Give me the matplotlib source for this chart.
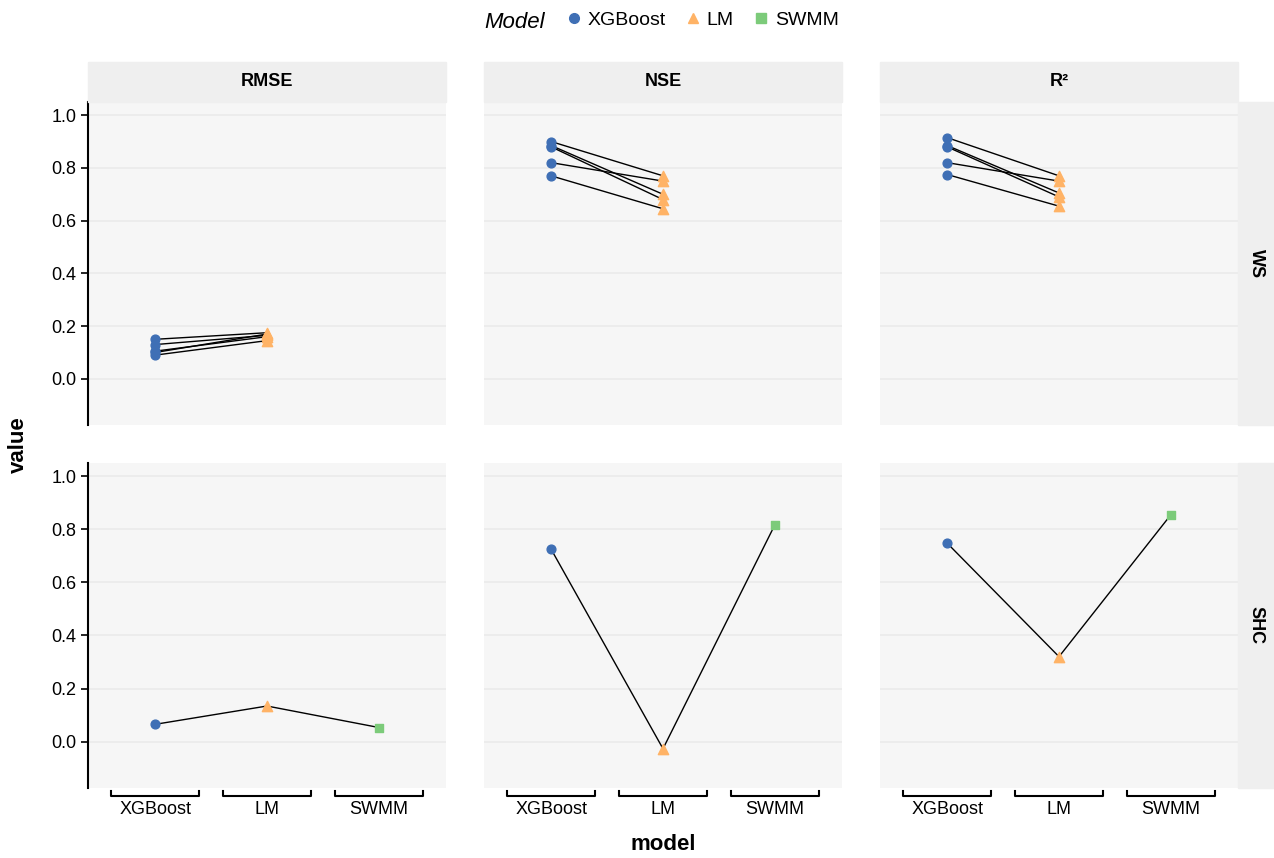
import matplotlib
matplotlib.use("Agg")
import matplotlib.pyplot as plt
import matplotlib.transforms as mtransforms

plt.rcParams['font.family'] = ['Liberation Sans', 'DejaVu Sans']

models = ["XGBoost", "LM", "SWMM"]
metrics = ["RMSE", "NSE", "R²"]
sites = ["WS", "SHC"]
colors = {"XGBoost": "#3f6fb5", "LM": "#ffb366", "SWMM": "#7ccb7a"}
markers = {"XGBoost": "o", "LM": "^", "SWMM": "s"}

# WS: paired XGBoost / LM values per event
ws_xgb = {"RMSE": [0.150, 0.130, 0.100, 0.090, 0.105],
          "NSE": [0.900, 0.885, 0.880, 0.820, 0.770],
          "R²": [0.915, 0.885, 0.880, 0.820, 0.775]}
ws_lm = {"RMSE": [0.175, 0.165, 0.170, 0.145, 0.160],
         "NSE": [0.770, 0.700, 0.680, 0.750, 0.645],
         "R²": [0.770, 0.705, 0.690, 0.750, 0.655]}
# SHC: XGBoost, LM, SWMM
shc = {"RMSE": [0.065, 0.134, 0.053],
       "NSE": [0.725, -0.027, 0.817],
       "R²": [0.748, 0.320, 0.855]}

fig = plt.figure(figsize=(12.74, 8.58), dpi=100)
W, H = 1274, 858
cols_x = [88, 484, 880]
pw = 358
rows_y = [(102, 425), (463, 788)]

axes = {}
for r, site in enumerate(sites):
    for c, met in enumerate(metrics):
        y0, y1 = rows_y[r]
        ax = fig.add_axes([cols_x[c] / W, 1 - y1 / H, pw / W, (y1 - y0) / H])
        ax.set_facecolor("#f6f6f6")
        ax.set_xlim(0.4, 3.6)
        ax.set_ylim(-0.175, 1.05)
        for yy in [0, 0.2, 0.4, 0.6, 0.8, 1.0]:
            ax.axhline(yy, color="#ebebeb", lw=1.2, zorder=0)
        for s in ax.spines.values():
            s.set_visible(False)
        ax.set_yticks([0, 0.2, 0.4, 0.6, 0.8, 1.0])
        if c == 0:
            ax.spines["left"].set_visible(True)
            ax.spines["left"].set_linewidth(1.5)
            ax.tick_params(axis="y", labelsize=13, width=1.2, length=5)
        else:
            ax.tick_params(axis="y", left=False, labelleft=False)
        ax.set_xticks([])
        if r == 1:
            tr = mtransforms.blended_transform_factory(ax.transData, ax.transAxes)
            for i, m in enumerate(models):
                x = i + 1
                ax.plot([x - 0.39, x - 0.39, x + 0.39, x + 0.39], [-0.01, -0.025, -0.025, -0.01],
                        transform=tr, color="black", lw=1.5, clip_on=False)
                ax.text(x, -0.04, m, transform=tr, ha="center", va="top", fontsize=13)
        if r == 0:
            fig.patches.append(plt.Rectangle((cols_x[c] / W, 1 - 102 / H), pw / W, 40 / H,
                                             transform=fig.transFigure, color="#efefef"))
            fig.text((cols_x[c] + pw / 2) / W, 1 - 82 / H, met, ha="center", va="center",
                     fontsize=13, fontweight="bold")
        axes[(site, met)] = ax
    y0, y1 = rows_y[r]
    fig.patches.append(plt.Rectangle((1238 / W, 1 - y1 / H), 36 / W, (y1 - y0) / H,
                                     transform=fig.transFigure, color="#efefef"))
    fig.text(1256 / W, 1 - (y0 + y1) / 2 / H, site, rotation=270, ha="center", va="center",
             fontsize=13, fontweight="bold")

for met in metrics:
    ax = axes[("WS", met)]
    for a, b in zip(ws_xgb[met], ws_lm[met]):
        ax.plot([1, 2], [a, b], color="black", lw=1, zorder=2)
    ax.scatter([1] * len(ws_xgb[met]), ws_xgb[met], color=colors["XGBoost"], marker="o", s=40, zorder=3)
    ax.scatter([2] * len(ws_lm[met]), ws_lm[met], color=colors["LM"], marker="^", s=55, zorder=3)
    ax = axes[("SHC", met)]
    ax.plot([1, 2, 3], shc[met], color="black", lw=1, zorder=2)
    for i, m in enumerate(models):
        ax.scatter([i + 1], [shc[met][i]], color=colors[m], marker=markers[m],
                   s=55 if m == "LM" else 40, zorder=3)

fig.text(18 / W, 1 - 445 / H, "value", rotation=90, ha="center", va="center",
         fontsize=16, fontweight="bold")
fig.text(663 / W, 1 - 845 / H, "model", ha="center", va="center", fontsize=16, fontweight="bold")

fig.text(545 / W, 1 - 22 / H, "Model", ha="right", va="center", fontsize=16, style="italic")
handles = [plt.Line2D([], [], ls="", marker=markers[m], color=colors[m], markersize=7) for m in models]
fig.legend(handles, models, loc="center left", bbox_to_anchor=(545 / W, 1 - 20 / H), ncol=3,
           frameon=False, fontsize=14, handletextpad=0.1, columnspacing=0.8, handlelength=1.2)

fig.savefig("out.png", dpi=100)
